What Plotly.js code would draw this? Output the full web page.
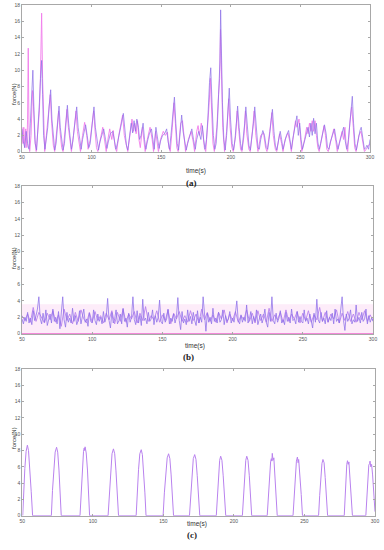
<!DOCTYPE html>
<html>
<head>
<meta charset="utf-8">
<script src="https://cdn.plot.ly/plotly-3.0.1.min.js"></script>
<style>html,body{margin:0;padding:0;background:#fff;}#chart{width:384px;height:550px;}</style>
</head>
<body>
<div id="chart"></div>
<script>
// ---------- Panel (a) ----------
const aPurpleT = [50,51,52,53,54,55,56,57,57.8,58.6,59.5,60.5,61.5,62.5,63.3,64.1,64.8,65.5,66.5,67.5,68.5,69.5,70.6,71.5,72.5,73.5,74.5,75.5,76.6,77.5,78.5,79.5,80.5,81.5,82.6,83.5,84.5,85.5,86.5,88,89.3,90.3,91.5,92.5,93.5,95,95.7,96.8,98,99,100.5,101.7,102.7,104,105,106,107.5,108.7,110,111,112,113.5,115.2,116.5,117.5,118.5,120,121.5,122.8,123.8,125,126,127,128.5,129.5,130.5,131.5,132.5,133.6,134.5,135.5,137,138,139,140,141.5,143,144,145,146.2,147.5,148.5,149.5,151,152.5,153.9,155,156,157,158,159.5,160.5,161.5,162.5,163.5,164.7,165.7,167,168,169,170.5,172,173.2,174.5,175.5,177,178.5,179.6,180.5,181.5,182.5,183.5,184.7,185.6,186.5,187.5,188.5,189.5,190.5,191.5,192.2,192.7,193.3,194,195,196,197,198,198.9,199.8,201,202,203,204,204.9,206,207,208,209,210,210.8,212,213,214,215,216.3,217.2,218.3,219.5,220.5,221.5,223,224.2,225.5,226.5,227.5,229,229.9,231,232,233,234,235.5,236.5,237.5,238.5,240,241.5,242.5,243.5,244.5,246,247.5,248.5,249.5,250.5,251.5,252.5,254,255.5,256.5,257.5,258.5,259.5,260.5,261.5,262.5,263.5,264.5,266,267.3,268.5,269.5,270.5,271.5,273,274.5,275.7,277,278,279.5,281,282.3,283.5,284.5,286,287.3,288.2,289.2,290.2,291.5,292.8,293.7,294.8,296,297,297.8,299,300];
const aPurpleF = [2.8,1.2,0.5,2.5,1.0,0.3,3.5,8.4,10.0,5,1.0,0.2,2.5,6,9,11.2,7,2,0.3,1.5,3,5.5,7.6,4,1.5,0.2,1,3,5.6,3,1.2,0.2,1,3.5,5.7,3.5,1.5,0.3,1.3,3.5,5.5,3,1.5,0.3,1.5,2.5,3.3,2,0.5,1,3.5,5.5,3,1,0.2,1.2,2,2.8,1.5,0.4,1.2,2.2,2.5,1.2,0.3,1,2.5,3.5,4.7,2.5,0.8,0.2,1.5,3.5,2.3,3.8,2.5,4,3,1.5,2,3.5,1.5,0.3,1.2,2.2,2.8,1.3,0.3,3,1.5,0.4,1.3,2,2.2,2.8,1.2,0.3,2,4,6.7,3.5,1,0.2,2,4.5,2.5,1,0.2,1,2,2.8,1.5,0.3,1.5,2.5,1.5,3.2,1.5,0.3,1.5,4,8.5,10.3,6,2,0.3,1,4,8.5,11,17.4,11,6,1.5,0.2,2,5,7.8,4,1,0.2,1.5,3.5,5.6,3,1,0.2,1.5,3.5,5.5,2.5,0.8,0.2,1.5,3.5,5.5,2.5,0.5,0.3,1.5,2.6,2,0.5,0.3,1.5,3.5,5.2,2.5,0.8,0.2,1.2,2.5,1.5,0.3,1,2,2.6,1.5,0.3,1.5,3,4.4,2,3.5,1.5,0.3,1,2,3,1.8,3.5,2,4.1,2.2,3.5,1.2,0.3,1,2.5,3.3,2.2,0.5,0.3,1.2,2,2.8,1.5,0.3,1,2.2,3,1.2,0.3,1.5,4,6.8,3.5,1,0.2,1.5,2.6,3,1.5,0.3,0.5,0.8,0.3,1.5];

const aPinkT = [50,50.7,51.3,52,52.7,53.5,54,54.5,55,55.5,56.5,57.5,58.3,59.2,60.2,61.5,62.5,63.2,64.1,64.8,65.5,66.3,67.5,69,70.3,71.3,72.5,73.5,74.8,76.3,77.3,78.5,79.5,81,82.3,83.3,84.5,85.5,87,88.8,89.8,91,92,93.5,95,96.5,97.5,99,100.5,101.5,102.5,103.5,104.5,106,108,109.5,110.5,112,113,114.5,115.5,117,118,119.5,121,122.3,123.5,125,126,127.5,129,130,131,132,133,134,135,136.5,137.5,138.5,140,142,143.5,144.5,146,147,148,149.5,151.5,153,154.5,155.5,156.5,158,159.2,160.2,161.2,162.2,164,165.3,166.5,167.5,169.5,171.5,173,174,175.5,176.5,177.5,178.8,179.8,181,182,183.5,184.5,185.3,186.2,187.2,188.2,190,191.2,192,192.6,193.2,194.2,195.5,197,198.5,199.5,200.8,201.8,203.5,204.6,205.8,207,208,209.5,210.5,211.5,213,214,215.5,216.8,218,219.5,221.5,223.5,225,226,228,229.5,230.5,232,233,235,236.5,237.5,239,241,242.5,243.5,245,246.5,247.5,249,250,251,253,254.5,255.5,256.5,257.5,258.5,259.5,260.5,261.5,262.5,263.5,265.5,267,268,269,270,272,274,275.5,276.5,278.5,280,281,282,283,284,285.5,286.8,288,289,290,292,293.5,295,296,298,300];
const aPinkF = [3,1,3,0.5,2.8,0.5,4,12.7,3,0,2,7.5,5.5,1.5,0,3,5,8.8,17.0,9,3,0,2,4.5,7,3.5,0.8,0,2.5,5,2.5,0.5,0,2.5,5.2,3,1,0,2,5,2.5,0.8,0,2,3.6,2,0.3,1.5,3.5,5,2.5,0.5,0,1.5,3,1.2,0,1.8,2.8,1.5,2.6,0.5,0,2,3.5,4.5,2,0.5,0,2,4,2.5,3.5,2.2,3.8,1.5,0.5,3,1.5,0,1.5,3,1.5,0,2.5,1,0,1.5,2.5,2,2.4,0.5,0,3,6,3.5,0.5,0,3.5,3.8,1.5,0,1.5,2.5,1.2,0,2.5,3.2,2,3.5,2.5,0.5,0,3,6,9,5,1,0,3,7,9,15,8.5,3,0,2.5,6.5,3,0.5,0,2,5,2.5,0.3,0,2,5,2.2,0.3,0,2.5,5,2,0,2,2.3,0.5,0,2.5,4.8,2,0.3,0,2.2,1,0,1.5,2.3,1.2,0,2,3.8,3,4,1.8,0,1.5,3,2.2,3.5,2.5,3.8,2.5,3.8,2,0.5,0,2,3.2,2,0.3,0,1.5,2.8,1.2,0,1.5,2.5,1.5,3,0.5,0,3.5,5.5,3,0.5,0,2,2.5,1,0,0.5,1];

// ---------- Panel (b) (1 s and 2 s samples starting at 50 s) ----------
const bStart = 50;
const bPurpleF = [
1.8,1.2,2.0,1.5,2.6,1.3,1.9,1.1,2.8,1.6,
2.2,3.0,4.5,1.8,1.2,2.5,1.4,2.9,1.0,1.6,
2.4,1.3,3.0,1.5,2.0,1.2,2.7,0.6,2.2,4.5,
1.7,0.8,2.6,1.4,1.9,1.3,3.1,1.5,2.2,1.1,
1.6,2.8,1.2,2.0,3.0,1.4,1.8,0.9,2.5,1.5,
1.3,2.9,1.6,1.1,2.4,1.5,2.0,1.2,2.7,1.4,
2.0,4.3,1.6,0.7,2.6,1.3,1.8,2.9,1.2,1.6,
2.4,1.2,3.1,1.5,1.9,0.8,2.5,1.4,2.0,4.5,
1.7,1.1,2.8,1.3,2.2,1.0,4.2,1.6,1.9,1.2,
2.6,1.5,1.8,2.9,1.1,2.2,1.4,2.0,4.1,1.5,
1.2,2.5,1.4,1.8,3.0,1.2,1.9,1.5,2.4,1.3,
2.0,4.4,1.6,0.5,2.7,1.3,1.8,1.1,2.9,1.5,
2.1,1.2,2.6,1.6,1.0,2.8,1.3,2.0,1.4,4.5,
1.8,0.3,2.5,1.4,2.0,1.2,3.1,1.5,1.9,1.3,
2.6,1.4,1.7,2.9,1.1,2.2,1.5,1.8,2.7,1.3,
1.9,1.4,2.5,4.0,1.6,1.2,2.3,1.4,2.0,1.5,
3.5,1.3,1.8,2.7,1.2,2.1,1.5,2.9,1.1,1.7,
2.4,1.3,1.9,3.0,1.4,0.8,2.6,1.5,4.5,1.6,
1.2,2.5,1.4,1.9,2.8,1.3,1.7,1.1,2.6,1.5,
2.0,1.3,3.0,1.6,1.8,1.2,2.7,1.4,2.1,1.5,
1.3,2.9,1.5,1.9,1.2,2.4,1.6,0.7,2.5,1.4,
4.2,1.7,1.3,2.6,1.5,1.9,1.2,2.8,1.4,2.0,
1.6,2.5,1.2,3.0,1.5,1.8,1.3,2.6,4.5,1.6,
0.4,2.4,1.5,1.9,2.9,1.2,1.7,1.4,3.5,1.5,
2.0,1.3,2.6,1.5,1.8,3.0,1.2,2.2,1.4,1.9,
1.5];
const bVioletF = [
2.2,1.6,2.4,1.4,3.2,1.5,2.6,1.9,1.3,2.5,
1.7,2.8,1.4,2.3,0.9,3.0,1.6,2.4,1.2,2.6,
1.5,2.9,1.8,1.3,2.6,1.4,2.7,1.6,2.2,1.3,
2.5,1.7,2.8,1.2,2.6,1.5,3.0,1.4,2.4,1.8,
2.7,1.3,2.5,1.6,3.3,1.5,2.2,1.7,2.8,1.4,
2.3,1.6,2.9,1.2,2.5,1.8,2.7,1.5,2.2,1.4,
2.8,1.6,2.4,1.3,3.0,1.7,2.6,1.5,2.3,1.4,
2.6,1.8,2.9,1.3,2.4,1.6,2.7,1.4,2.2,1.7,
2.9,1.5,2.5,1.3,2.8,1.6,2.4,1.4,3.1,1.5,
2.3,1.7,2.6,1.4,2.9,1.5,2.4,1.8,2.7,1.3,
2.5,1.6,2.8,1.4,2.3,1.7,3.2,1.5,2.6,1.4,
2.4,1.8,2.9,1.3,2.5,1.6,2.7,1.5,2.4,1.4,
2.6,1.7,2.8,1.5,2.3,1.6];
const bBandT = [50, 300];
const bBandF = [3.6, 3.6];
const bBaseF = [0, 0];

// ---------- Panel (c) ----------
const cT = [50.3,51.0,51.8,52.7,53.6,54.4,55.3,56.3,57.3,
70.6,71.4,72.3,73.3,74.3,75.1,76.0,76.8,77.6,
90.9,91.7,92.5,93.4,93.9,94.2,94.5,95.3,96.2,97.0,97.7,
110.8,111.7,112.6,113.6,114.6,115.5,116.4,117.3,118.2,
130.7,131.5,132.4,133.3,134.3,135.1,136.0,136.9,137.7,
149.8,150.7,151.7,152.7,153.7,154.6,155.5,156.4,157.2,
168.5,169.4,170.3,171.2,172.2,173.1,174.0,174.9,175.8,
187.5,188.3,189.1,189.9,190.6,191.5,192.4,193.3,194.2,
206.0,206.8,207.6,208.4,209.1,210.0,210.9,211.8,212.6,
223.6,224.4,225.2,226.0,226.5,226.9,227.2,227.7,228.3,229.0,229.9,230.7,
241.9,242.7,243.5,244.3,245.0,245.5,245.9,246.8,247.7,248.6,
260.0,260.8,261.6,262.4,263.1,263.9,264.7,265.6,266.4,
278.2,278.8,279.4,280.0,280.5,281.0,281.5,282.3,283.2,284.0,
293.5,294.2,294.9,295.6,296.1,296.5,297.0,297.6,298.3,299.0,299.6,300];
const cF = [0,3.0,5.8,7.9,8.65,8.0,6.0,3.0,0,
0,3.1,5.9,7.8,8.4,7.8,5.6,3.0,0,
0,3.2,6.0,7.9,8.3,8.0,8.45,7.7,5.6,3.0,0,
0,3.0,5.7,7.6,8.2,7.6,5.5,2.8,0,
0,3.0,5.7,7.6,8.1,7.5,5.4,2.8,0,
0,2.8,5.3,7.1,7.6,7.0,5.0,2.6,0,
0,2.7,5.2,7.0,7.5,6.9,4.9,2.5,0,
0,2.7,5.1,6.8,7.3,6.8,4.9,2.5,0,
0,2.7,5.1,6.8,7.3,6.8,4.9,2.5,0,
0,2.8,5.3,6.6,7.0,6.7,7.65,6.8,7.1,5.2,2.7,0,
0,2.6,5.0,6.7,7.2,6.5,6.9,5.0,2.6,0,
0,2.5,4.8,6.4,6.9,6.5,4.7,2.4,0,
0,2.5,4.8,6.3,6.75,6.3,6.6,4.8,2.4,0,
0,2.5,4.8,6.2,6.4,6.7,6.0,6.3,5.0,3.5,1.5,0.5];

const xTicks = [50,100,150,200,250,300];
const yTicks = [0,2,4,6,8,10,12,14,16,18];
const panelLabels = ['(a)','(b)','(c)'];

const bPurpleT = bPurpleF.map((_, i) => bStart + i);
const bVioletT = bVioletF.map((_, i) => bStart + 2 * i);

const PURPLE = 'rgb(140,112,232)';
const PINK = 'rgb(240,125,235)';
const VIOLET = 'rgb(185,130,238)';

const traces = [
  {x: aPinkT, y: aPinkF, xaxis:'x', yaxis:'y', mode:'lines', line:{color:PINK, width:0.9}},
  {x: aPurpleT, y: aPurpleF, xaxis:'x', yaxis:'y', mode:'lines', line:{color:PURPLE, width:0.9}, opacity:0.8},
  {x: bBandT, y: bBandF, xaxis:'x2', yaxis:'y2', mode:'lines', line:{width:0, color:'rgba(0,0,0,0)'}, fill:'tozeroy', fillcolor:'rgba(252,220,244,0.55)'},
  {x: bBandT, y: bBaseF, xaxis:'x2', yaxis:'y2', mode:'lines', line:{color:'rgb(238,100,205)', width:1.5}},
  {x: bVioletT, y: bVioletF, xaxis:'x2', yaxis:'y2', mode:'lines', line:{color:VIOLET, width:0.9}},
  {x: bPurpleT, y: bPurpleF, xaxis:'x2', yaxis:'y2', mode:'lines', line:{color:PURPLE, width:0.9}, opacity:0.85},
  {x: cT, y: cF, xaxis:'x3', yaxis:'y3', mode:'lines', line:{color:VIOLET, width:1}}
];

function xa(domain, anchor) {
  return {domain: domain, anchor: anchor, range:[50,300], tickmode:'array', tickvals:xTicks,
    ticktext: xTicks.map(String), showgrid:false, zeroline:false, showline:true, linecolor:'#a8a8a8',
    linewidth:1, mirror:'allticks', ticks:'inside', ticklen:2, tickcolor:'#a8a8a8',
    tickfont:{size:5, color:'#555', family:'Liberation Sans, Arial, sans-serif'}};
}
function ya(domain, anchor) {
  return {domain: domain, anchor: anchor, range:[0,18], tickmode:'array', tickvals:yTicks,
    ticktext: yTicks.map(String), showgrid:false, zeroline:false, showline:true, linecolor:'#a8a8a8',
    linewidth:1, mirror:'allticks', ticks:'inside', ticklen:2, tickcolor:'#a8a8a8',
    tickfont:{size:5, color:'#555', family:'Liberation Sans, Arial, sans-serif'}};
}

const H = 550, W = 384;
const px = v => v / W, py = v => 1 - v / H;

const annFont = {size:6.5, color:'#333', family:'Liberation Sans, Arial, sans-serif'};
const labFont = {size:9, color:'#222', family:'Liberation Serif, Times New Roman, serif'};
const annotations = [];
const yLabelY = [81, 258, 451];
const timeY = [165, 346, 530];
const timeX = [196, 195, 197];
const panY = [176, 357, 542];
const panX = [191.5, 188, 191.5];
for (let i = 0; i < 3; i++) {
  annotations.push({xref:'paper', yref:'paper', x:px(9), y:py(yLabelY[i]), text:'force(N)', textangle:-90, showarrow:false, font:{size:6, color:'#333', family:'Liberation Sans, Arial, sans-serif'}});
  annotations.push({xref:'paper', yref:'paper', x:px(timeX[i]), y:py(timeY[i]), text:'time(s)', showarrow:false, font:annFont});
  annotations.push({xref:'paper', yref:'paper', x:px(panX[i]), y:py(panY[i]), text:'<b>' + panelLabels[i] + '</b>', showarrow:false, font:labFont});
}

const layout = {
  width: W, height: H, margin:{l:0, r:0, t:0, b:0}, showlegend:false,
  paper_bgcolor:'#fff', plot_bgcolor:'#fff',
  xaxis: xa([px(22), px(370)], 'y'),
  yaxis: ya([py(151.7), py(5)], 'x'),
  xaxis2: xa([px(22), px(373)], 'y2'),
  yaxis2: ya([py(333.7), py(186)], 'x2'),
  xaxis3: xa([px(22.3), px(375)], 'y3'),
  yaxis3: ya([py(515.7), py(369)], 'x3'),
  annotations: annotations
};

Plotly.newPlot('chart', traces, layout, {staticPlot:true, displayModeBar:false});
</script>
</body>
</html>
